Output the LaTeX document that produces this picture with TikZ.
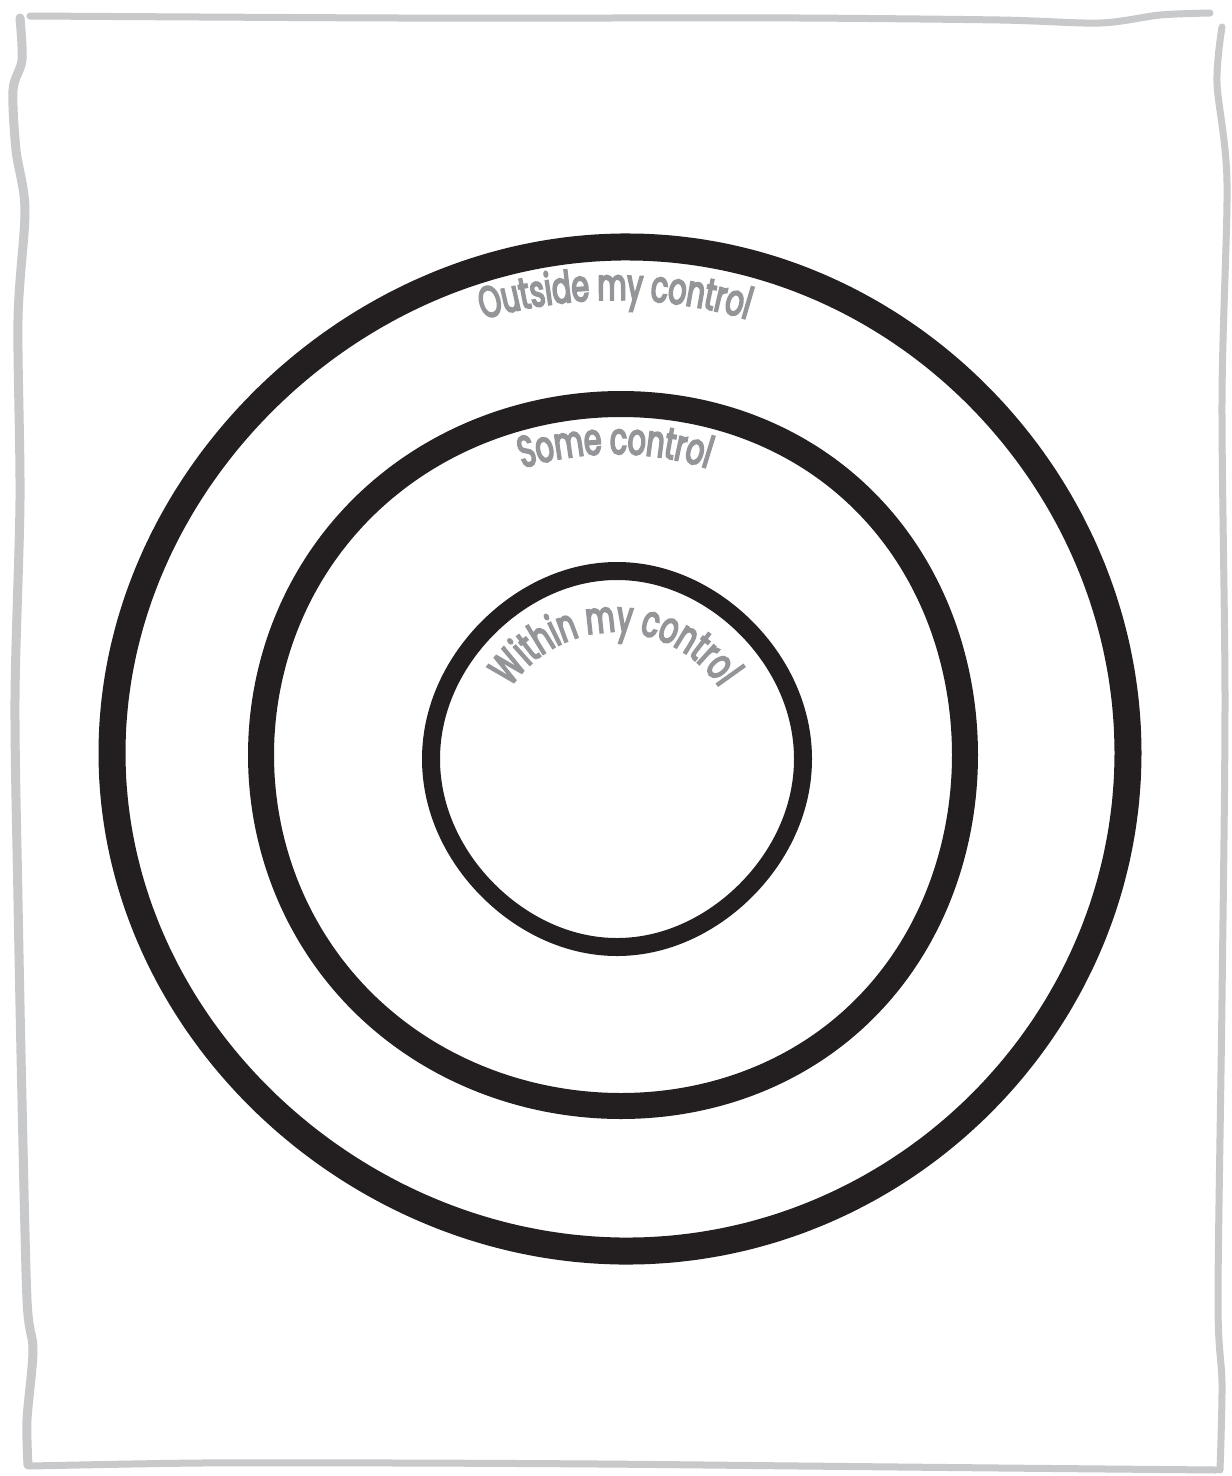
\documentclass[tikz,border=0pt]{standalone}
\usepackage{fontspec}
\usetikzlibrary{decorations.text,calc}
\newfontfamily\handfont[FakeStretch=0.64,FakeBold=4]{Poppins}
\definecolor{inkblack}{HTML}{231F20}
\definecolor{framegray}{HTML}{C8C9CB}
\definecolor{labelgray}{HTML}{939598}
\newcommand\lab{\handfont\fontsize{44}{44}\selectfont\color{labelgray}}
\tikzset{
  ring/.style={draw=inkblack, line join=round},
  frameline/.style={draw=framegray, line width=7pt, line cap=round, line join=round},
  arclabel/.style={decorate, decoration={text along path, text align=center, text={|\lab|#1}}}
}
\begin{document}
\begin{tikzpicture}[x=1pt,y=-1pt]
\fill[white] (0,0) rectangle (1232,1476);
\useasboundingbox (0,0) rectangle (1232,1476);
% frame
\draw[frameline] plot[smooth] coordinates {(30,16) (200,17) (400,18) (600,18) (800,18) (1000,20) (1100,23) (1160,15) (1210,13)};
\draw[frameline, line width=9pt] plot[smooth] coordinates {(20,18) (22,60) (13,90) (16,150) (25,210) (18,320) (20,500) (15,700) (18,900) (22,1100) (27,1300) (33,1350) (27,1420) (28,1465)};
\draw[frameline] plot[smooth] coordinates {(30,1466) (200,1463) (400,1463) (600,1464) (800,1466) (1000,1468) (1216,1470)};
\draw[frameline] plot[smooth] coordinates {(1222,27) (1217,83) (1227,183) (1222,400) (1225,700) (1222,1000) (1218,1300) (1222,1383) (1220,1470)};
% outer ring
\draw[ring, line width=27pt] plot[smooth cycle, domain=0:357, samples=120, variable=\t]
  ({620+505*cos(\t)+3*cos(3*\t)}, {751+502*sin(\t)+4*sin(2*\t+30)});
% middle ring
\draw[ring, line width=26pt] plot[smooth cycle, domain=0:357, samples=120, variable=\t]
  ({617+352*cos(\t)-4*cos(2*\t)}, {755+354*sin(\t)+3*sin(3*\t)});
% inner ring
\draw[ring, line width=18pt] plot[smooth cycle, domain=0:357, samples=120, variable=\t]
  ({617+183*cos(\t)+3*cos(3*\t)}, {759+188*sin(\t)});
% labels
\coordinate (c) at (615,758);
\path[arclabel={Outside my control}] ($(c)+(-150:458)$) arc[start angle=-150, end angle=-30, radius=458];
\path[arclabel={Some control}] ($(c)+(-150:304)$) arc[start angle=-150, end angle=-30, radius=304];
\path[arclabel={Within my control}] ($(c)+(-160:126)$) arc[start angle=-160, end angle=-20, radius=126];
\end{tikzpicture}
\end{document}
